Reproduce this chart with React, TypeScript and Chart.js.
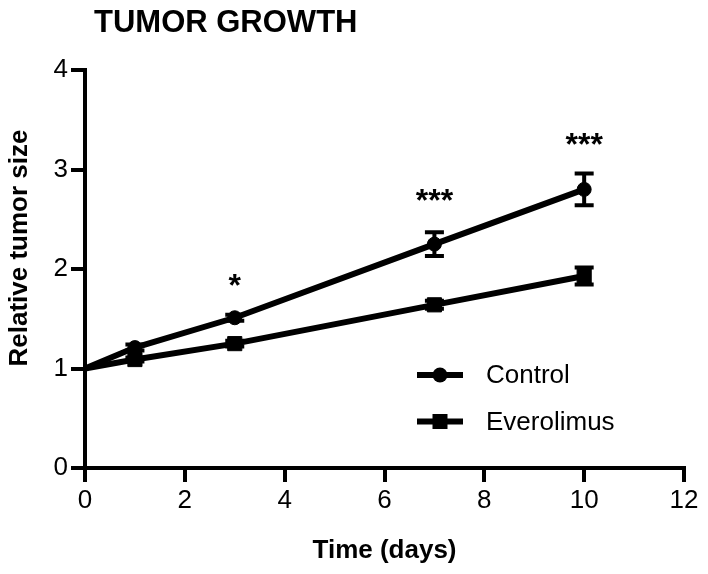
import React, { useEffect, useRef } from 'react';
import { Chart, registerables } from 'chart.js';

Chart.register(...registerables);

// ---- data ----
const days = [0, 1, 3, 7, 10];
const controlMean = [1, 1.21, 1.51, 2.25, 2.8];
const controlErr = [0, 0.03, 0.03, 0.12, 0.16];
const everoMean = [1, 1.09, 1.25, 1.64, 1.93];
const everoErr = [0, 0.02, 0.03, 0.04, 0.085];
const seriesNames = ['Control', 'Everolimus'];
const xTicks = [0, 2, 4, 6, 8, 10, 12];
const yTicks = [0, 1, 2, 3, 4];
const sigDays = [3, 7, 10];
const sigLabels = ['*', '***', '***'];
const sigLevels = [1.86, 2.71, 3.28];
const chartTitle = 'TUMOR GROWTH';
const xTitle = 'Time (days)';
const yTitle = 'Relative tumor size';

const FONT = "'Liberation Sans', Arial, Helvetica, sans-serif";

const errorBarPlugin = {
  id: 'errorBars',
  afterDatasetsDraw(chart: any) {
    const ctx = chart.ctx;
    const ys = chart.scales.y;
    chart.data.datasets.forEach((ds: any, i: number) => {
      const meta = chart.getDatasetMeta(i);
      const errs: number[] = ds.errors || [];
      meta.data.forEach((pt: any, j: number) => {
        const e = errs[j];
        if (!e) return;
        const mean = ds.data[j].y;
        const yTop = ys.getPixelForValue(mean + e);
        const yBot = ys.getPixelForValue(mean - e);
        ctx.save();
        ctx.strokeStyle = '#000';
        ctx.lineWidth = 4;
        ctx.lineCap = 'butt';
        ctx.beginPath();
        ctx.moveTo(pt.x, yTop);
        ctx.lineTo(pt.x, yBot);
        ctx.moveTo(pt.x - 9.5, yTop);
        ctx.lineTo(pt.x + 9.5, yTop);
        ctx.moveTo(pt.x - 9.5, yBot);
        ctx.lineTo(pt.x + 9.5, yBot);
        ctx.stroke();
        ctx.restore();
      });
    });
  },
};

const decorPlugin = {
  id: 'decor',
  afterDraw(chart: any) {
    const ctx = chart.ctx;
    const area = chart.chartArea;
    const xs = chart.scales.x;
    const ys = chart.scales.y;
    ctx.save();
    ctx.fillStyle = '#000';

    // chart title
    ctx.font = `bold 31px ${FONT}`;
    ctx.textAlign = 'left';
    ctx.textBaseline = 'alphabetic';
    ctx.fillText(chartTitle, area.left + 9, 32);

    // y-axis title
    ctx.save();
    ctx.font = `bold 26px ${FONT}`;
    ctx.translate(27, (area.top + area.bottom) / 2 - 21);
    ctx.rotate(-Math.PI / 2);
    ctx.textAlign = 'center';
    ctx.textBaseline = 'alphabetic';
    ctx.fillText(yTitle, 0, 0);
    ctx.restore();

    // significance markers
    ctx.font = `bold 32px ${FONT}`;
    ctx.textAlign = 'center';
    ctx.textBaseline = 'alphabetic';
    sigDays.forEach((d, i) => {
      const px = xs.getPixelForValue(d);
      const py = ys.getPixelForValue(sigLevels[i]);
      ctx.fillText(sigLabels[i], px, py + 13);
    });

    // legend (line + marker)
    chart.data.datasets.forEach((ds: any, i: number) => {
      const ly = area.top + 305 + i * 46.5;
      const x0 = area.left + 332;
      const x1 = area.left + 378;
      const xm = (x0 + x1) / 2;
      ctx.strokeStyle = '#000';
      ctx.lineWidth = 6;
      ctx.beginPath();
      ctx.moveTo(x0, ly);
      ctx.lineTo(x1, ly);
      ctx.stroke();
      ctx.beginPath();
      if (ds.pointStyle === 'rect') {
        ctx.rect(xm - 7.5, ly - 7.5, 15, 15);
      } else {
        ctx.arc(xm, ly, 7.5, 0, Math.PI * 2);
      }
      ctx.fill();
      ctx.font = `26px ${FONT}`;
      ctx.textAlign = 'left';
      ctx.textBaseline = 'middle';
      ctx.fillText(ds.label, area.left + 401, ly + 1);
    });
    ctx.restore();
  },
};

export default function App() {
  const ref = useRef<HTMLCanvasElement | null>(null);

  useEffect(() => {
    if (!ref.current) return;
    Chart.defaults.font.family = FONT;
    Chart.defaults.color = '#000';
    const mk = (means: number[]) => days.map((d, i) => ({ x: d, y: means[i] }));
    const chart = new Chart(ref.current, {
      type: 'line',
      data: {
        datasets: [
          {
            label: seriesNames[0],
            data: mk(controlMean),
            errors: controlErr,
            borderColor: '#000',
            backgroundColor: '#000',
            borderWidth: 6,
            pointStyle: 'circle',
            pointRadius: days.map((d) => (d === 0 ? 0 : 7)),
            pointHoverRadius: 0,
            pointBorderWidth: 1,
            pointBackgroundColor: '#000',
            pointBorderColor: '#000',
            tension: 0,
            clip: false,
          } as any,
          {
            label: seriesNames[1],
            data: mk(everoMean),
            errors: everoErr,
            borderColor: '#000',
            backgroundColor: '#000',
            borderWidth: 6,
            pointStyle: 'rect',
            pointRadius: days.map((d) => (d === 0 ? 0 : 10)),
            pointHoverRadius: 0,
            pointBorderWidth: 1,
            pointBackgroundColor: '#000',
            pointBorderColor: '#000',
            tension: 0,
            clip: false,
          } as any,
        ],
      },
      options: {
        responsive: false,
        animation: false,
        events: [],
        layout: { padding: { top: 70, right: 24, bottom: 0, left: 0 } },
        plugins: {
          legend: { display: false },
          tooltip: { enabled: false },
          title: { display: false },
        },
        scales: {
          x: {
            type: 'linear',
            min: 0,
            max: 12,
            afterBuildTicks: (s: any) => {
              s.ticks = xTicks.map((v) => ({ value: v }));
            },
            afterFit: (s: any) => {
              s.height = 106;
            },
            border: { display: true, color: '#000', width: 4 },
            grid: {
              drawOnChartArea: false,
              drawTicks: true,
              tickLength: 14,
              color: '#000',
              lineWidth: 4,
            },
            ticks: {
              color: '#000',
              font: { size: 26, family: FONT },
              padding: 3,
              maxRotation: 0,
              callback: (v: any) => String(v),
            },
            title: {
              display: true,
              text: xTitle,
              color: '#000',
              font: { size: 26, weight: 'bold', family: FONT },
              padding: { top: 4, bottom: 8 },
            },
          },
          y: {
            type: 'linear',
            min: 0,
            max: 4,
            afterBuildTicks: (s: any) => {
              s.ticks = yTicks.map((v) => ({ value: v }));
            },
            afterFit: (s: any) => {
              s.width = 85;
            },
            border: { display: true, color: '#000', width: 4 },
            grid: {
              drawOnChartArea: false,
              drawTicks: true,
              tickLength: 14,
              color: '#000',
              lineWidth: 4,
            },
            ticks: {
              color: '#000',
              font: { size: 26, family: FONT },
              padding: 3,
              callback: (v: any) => String(v),
            },
          },
        },
      } as any,
      plugins: [errorBarPlugin, decorPlugin],
    });
    return () => chart.destroy();
  }, []);

  return (
    <div style={{ position: 'absolute', left: 0, top: 0, width: 708, height: 574, background: '#fff' }}>
      <canvas ref={ref} width={708} height={574} style={{ display: 'block' }} />
    </div>
  );
}
